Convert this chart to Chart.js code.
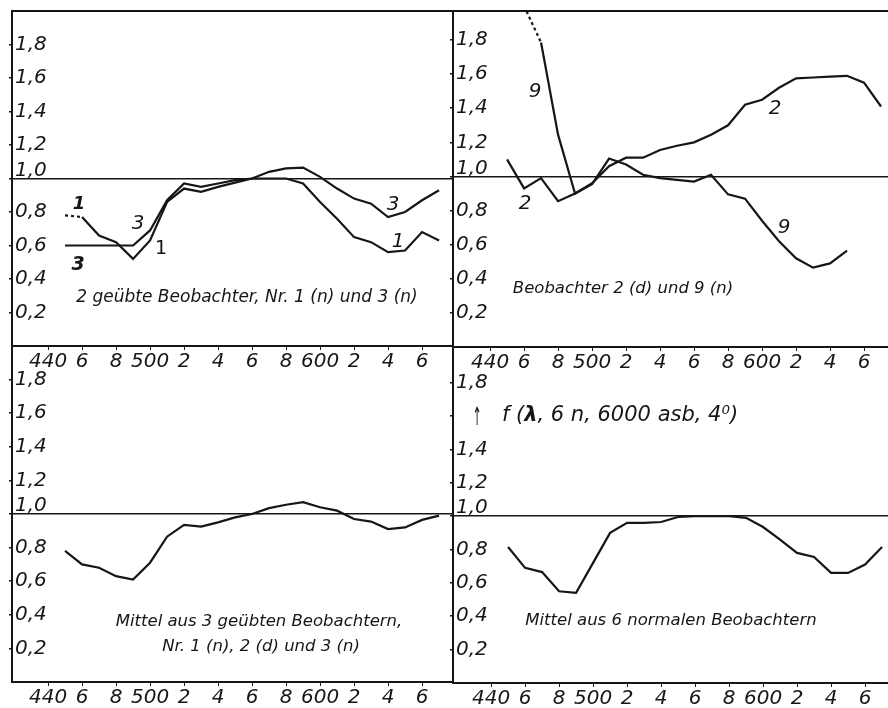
<!DOCTYPE html>
<html>
<head>
<meta charset="utf-8">
<script src="https://cdn.jsdelivr.net/npm/chart.js@4"></script>
<style>
  body { margin: 0; background: #fff; }
  #wrap { position: relative; width: 888px; height: 708px; overflow: hidden;
          font-family: "DejaVu Sans", sans-serif; font-style: italic; color: #161616; }
  #wrap canvas { position: absolute; left: 0; top: 0; }
  .t { position: absolute; white-space: nowrap; transform: translate(-50%, -50%);
       font-size: 16.5px; line-height: 1; }
  .n { font-size: 20px; }
</style>
</head>
<body>
<div id="wrap">
  <canvas id="tl" width="888" height="708"></canvas>
  <canvas id="tr" width="888" height="708"></canvas>
  <canvas id="bl" width="888" height="708"></canvas>
  <canvas id="br" width="888" height="708"></canvas>

  <!-- curve labels -->
  <div class="t n" style="left:79px;top:203px;font-weight:bold;font-size:18px">1</div>
  <div class="t n" style="left:138px;top:222px">3</div>
  <div class="t n" style="left:161px;top:247px;font-style:normal;font-size:19px">1</div>
  <div class="t n" style="left:78px;top:263px;font-weight:bold;font-size:19px">3</div>
  <div class="t n" style="left:393px;top:203px">3</div>
  <div class="t n" style="left:398px;top:240px">1</div>
  <div class="t n" style="left:535px;top:90px">9</div>
  <div class="t n" style="left:775px;top:107px">2</div>
  <div class="t n" style="left:525px;top:202px">2</div>
  <div class="t n" style="left:784px;top:226px">9</div>

  <!-- captions -->
  <div class="t" style="left:247px;top:296px;font-size:17px">2 geübte Beobachter, Nr. 1 (n) und 3 (n)</div>
  <div class="t" style="left:623px;top:288px">Beobachter 2 (d) und 9 (n)</div>
  <div class="t" style="left:259px;top:621px">Mittel aus 3 geübten Beobachtern,</div>
  <div class="t" style="left:261px;top:646px">Nr. 1 (n), 2 (d) und 3 (n)</div>
  <div class="t" style="left:671px;top:620px">Mittel aus 6 normalen Beobachtern</div>
  <div class="t" style="left:477px;top:417px;font-style:normal;font-size:18px;transform:translate(-50%,-50%) scale(0.6,1.4)">↑</div>
  <div class="t" style="left:620px;top:414px;font-size:21px">f (<b>λ</b>, 6 n, 6000 asb, 4⁰)</div>
</div>
<script>
// wavelength in nm, 10 nm steps
const lambda = [450, 460, 470, 480, 490, 500, 510, 520, 530, 540, 550, 560,
                570, 580, 590, 600, 610, 620, 630, 640, 650, 660, 670];

const xTicks = [440, 460, 480, 500, 520, 540, 560, 580, 600, 620, 640, 660];
const xTickLabels = ['440', '6', '8', '500', '2', '4', '6', '8', '600', '2', '4', '6'];
const yTicks = [0.2, 0.4, 0.6, 0.8, 1.0, 1.2, 1.4, 1.6, 1.8];
const yTickLabels = ['0,2', '0,4', '0,6', '0,8', '1,0', '1,2', '1,4', '1,6', '1,8'];

// observer curves f(lambda)
const obs1 = [0.78, 0.77, 0.66, 0.62, 0.52, 0.63, 0.86, 0.94, 0.92, 0.95, 0.975, 1.0,
              1.0, 1.0, 0.97, 0.86, 0.76, 0.65, 0.62, 0.56, 0.57, 0.68, 0.63];
const obs3 = [0.60, 0.60, 0.60, 0.60, 0.60, 0.69, 0.87, 0.97, 0.95, 0.97, 0.99, 1.0,
              1.04, 1.06, 1.065, 1.01, 0.94, 0.88, 0.85, 0.77, 0.80, 0.87, 0.93];
const obs2 = [1.10, 0.93, 0.99, 0.855, 0.90, 0.96, 1.06, 1.11, 1.11, 1.155, 1.18, 1.20,
              1.245, 1.30, 1.42, 1.45, 1.52, 1.575, 1.58, 1.585, 1.59, 1.55, 1.41];
const obs9 = [null, 2.0, 1.785, 1.245, 0.90, 0.955, 1.105, 1.07, 1.01, 0.99, 0.98, 0.97,
              1.01, 0.895, 0.87, 0.74, 0.62, 0.52, 0.465, 0.49, 0.565, null, null];
const mean3 = [0.78, 0.70, 0.68, 0.63, 0.61, 0.71, 0.865, 0.935, 0.925, 0.95, 0.98, 1.0,
               1.035, 1.055, 1.07, 1.04, 1.02, 0.97, 0.955, 0.91, 0.92, 0.965, 0.99];
const mean6 = [0.815, 0.69, 0.665, 0.55, 0.54, 0.72, 0.90, 0.96, 0.96, 0.965, 0.995, 1.0,
               1.0, 1.0, 0.99, 0.935, 0.86, 0.78, 0.755, 0.66, 0.66, 0.71, 0.815];

const ink = '#161616';
const tickFont = { family: 'DejaVu Sans', style: 'italic', size: 20, lineHeight: 0.8 };

function line(vals, dashedFrom) {
  return {
    data: lambda.map((x, i) => ({ x: x, y: vals[i] })),
    borderColor: ink,
    borderWidth: 2.2,
    pointRadius: 0,
    tension: 0,
    segment: {
      borderDash: ctx => ctx.p0DataIndex === dashedFrom ? [3, 3] : undefined
    }
  };
}

function panel(id, box, xMin, xMax, yMax, datasets, topBorder, hideY) {
  // room under the x axis for its tick labels
  const xh = Math.min(27, 708 - box[3]);
  const scales = {
    x: {
      type: 'linear', min: xMin, max: xMax,
      afterBuildTicks: s => { s.ticks = xTicks.map(v => ({ value: v })); },
      afterFit: s => { s.height = xh; },
      ticks: { font: tickFont, color: ink, padding: 4, maxRotation: 0, autoSkip: false,
               callback: (v, i) => xTickLabels[i] },
      grid: { drawOnChartArea: false, color: ink, tickLength: 4 },
      border: { color: ink, width: 2 }
    },
    y: {
      type: 'linear', min: 0, max: yMax,
      afterBuildTicks: s => { s.ticks = yTicks.map(v => ({ value: v })); },
      afterFit: s => { s.width = 0; },
      ticks: { font: tickFont, color: ink, mirror: true, padding: 3,
               callback: (v, i) => {
                 const lab = hideY.includes(i) ? '' : yTickLabels[i];
                 return v === 1 ? [lab, ''] : lab;
               } },
      grid: { color: ctx => (ctx.tick && ctx.tick.value === 1) ? ink : 'rgba(0,0,0,0)',
              lineWidth: 1.6, tickColor: ink, tickLength: 3 },
      border: { color: ink, width: 2 }
    }
  };
  if (topBorder) {
    scales.xTop = {
      type: 'linear', position: 'top', min: xMin, max: xMax,
      afterFit: s => { s.height = 0; },
      ticks: { display: false },
      grid: { drawOnChartArea: false, drawTicks: false },
      border: { color: ink, width: 2 }
    };
  }
  new Chart(document.getElementById(id), {
    type: 'line',
    data: { datasets: datasets },
    options: {
      responsive: false,
      animation: false,
      events: [],
      layout: {
        autoPadding: false,
        padding: { left: box[0], top: box[1], right: 888 - box[2], bottom: 708 - box[3] - xh }
      },
      plugins: { legend: { display: false }, tooltip: { enabled: false } },
      scales: scales
    }
  });
}

panel('tl', [12, 8, 453, 346], 418.8, 678.2, 2.0, [line(obs1, 0), line(obs3, -1)], true, []);
panel('tr', [453, 8, 888, 347], 418.2, 674.1, 1.97, [line(obs2, -1), line(obs9, 1)], true, []);
panel('bl', [12, 346, 453, 682], 418.8, 678.2, 2.0, [line(mean3, -1)], false, []);
panel('br', [453, 346, 888, 683], 417.6, 673.5, 2.02, [line(mean6, -1)], false, [7]);
</script>
</body>
</html>
